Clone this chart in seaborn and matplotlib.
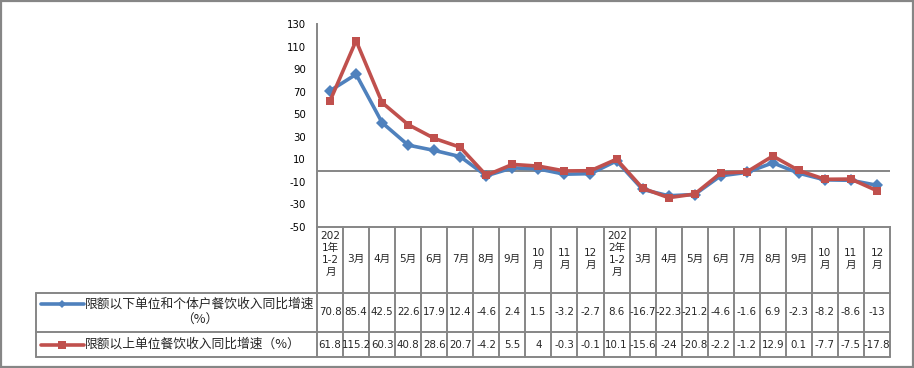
import numpy as np
import pandas as pd
import matplotlib
matplotlib.use("Agg")
import matplotlib.pyplot as plt
import seaborn as sns
from matplotlib.lines import Line2D
from matplotlib.patches import Rectangle

# ---------------- data ----------------
categories = ["2021年1-2月", "3月", "4月", "5月", "6月", "7月", "8月", "9月", "10月", "11月", "12月",
              "2022年1-2月", "3月", "4月", "5月", "6月", "7月", "8月", "9月", "10月", "11月", "12月"]
header_labels = ["202\n1年\n1-2\n月", "3月", "4月", "5月", "6月", "7月", "8月", "9月", "10\n月", "11\n月", "12\n月",
                 "202\n2年\n1-2\n月", "3月", "4月", "5月", "6月", "7月", "8月", "9月", "10\n月", "11\n月", "12\n月"]
series1_name = "限额以下单位和个体户餐饮收入同比增速（%）"
series2_name = "限额以上单位餐饮收入同比增速（%）"
series1_line1 = "限额以下单位和个体户餐饮收入同比增速"
series1_line2 = "（%）"
series2_label = "限额以上单位餐饮收入同比增速（%）"
series1 = [70.8, 85.4, 42.5, 22.6, 17.9, 12.4, -4.6, 2.4, 1.5, -3.2, -2.7,
           8.6, -16.7, -22.3, -21.2, -4.6, -1.6, 6.9, -2.3, -8.2, -8.6, -13]
series2 = [61.8, 115.2, 60.3, 40.8, 28.6, 20.7, -4.2, 5.5, 4, -0.3, -0.1,
           10.1, -15.6, -24, -20.8, -2.2, -1.2, 12.9, 0.1, -7.7, -7.5, -17.8]
yticks = [-50, -30, -10, 10, 30, 50, 70, 90, 110, 130]

# ---------------- style ----------------
sns.set_style("white")
plt.rcParams['font.family'] = ['Noto Sans CJK SC', 'DejaVu Sans']
plt.rcParams['axes.unicode_minus'] = False
NUMFONT = ['DejaVu Sans', 'Noto Sans CJK SC']

BLUE = "#4F81BD"
RED = "#C0504D"
GRAY = "#868686"

W, H = 914, 368
fig = plt.figure(figsize=(W / 100, H / 100), dpi=100)

def fx(px):
    return px / W

def fy(py):
    return 1 - py / H

X0, X1 = 317, 890
Y0, Y1 = 24, 227
ax = fig.add_axes([fx(X0), fy(Y1), fx(X1) - fx(X0), fy(Y0) - fy(Y1)])

n = len(categories)
df = pd.DataFrame({
    "idx": list(range(n)) * 2,
    "value": series1 + series2,
    "series": [series1_name] * n + [series2_name] * n,
})

sns.lineplot(data=df, x="idx", y="value", hue="series", style="series",
             hue_order=[series1_name, series2_name],
             palette=[BLUE, RED], markers=["D", "s"], dashes=False,
             linewidth=2.6, markersize=5.8, markeredgewidth=0,
             legend=False, ax=ax)

ax.set_xlim(-0.5, n - 0.5)
ax.set_ylim(-50, 130)
ax.set_yticks(yticks)
ax.set_yticklabels([str(t) for t in yticks], family=NUMFONT)
ax.set_xticks([])
ax.set_xlabel("")
ax.set_ylabel("")
ax.axhline(0, color=GRAY, lw=1.4, zorder=1)
for s in ["top", "right"]:
    ax.spines[s].set_visible(False)
ax.spines["left"].set_color(GRAY)
ax.spines["left"].set_linewidth(1.4)
ax.spines["bottom"].set_color(GRAY)
ax.spines["bottom"].set_linewidth(1.4)
ax.tick_params(axis="y", direction="out", length=5, width=1.2, color=GRAY,
               labelsize=7.3, labelcolor="black", pad=3)
ax.patch.set_alpha(0)

# ---------------- data table ----------------
cw = (X1 - X0) / n
TL = 36
R_HEAD = 227
R1_TOP = 293
R2_TOP = 332
R_BOT = 357

def hline(y, xa, xb):
    fig.add_artist(Line2D([fx(xa), fx(xb)], [fy(y), fy(y)], color=GRAY, lw=1.4))

def vline(x, ya, yb):
    fig.add_artist(Line2D([fx(x), fx(x)], [fy(ya), fy(yb)], color=GRAY, lw=1.4))

for i in range(n + 1):
    vline(X0 + i * cw, R_HEAD, R_BOT)
vline(TL, R1_TOP, R_BOT)
hline(R1_TOP, TL, X1)
hline(R2_TOP, TL, X1)
hline(R_BOT, TL, X1)

for i, lab in enumerate(header_labels):
    cx = X0 + (i + 0.5) * cw
    if lab.count("\n") >= 3:
        fig.text(fx(cx + 0.5), fy(231), lab, ha="center", va="top",
                 fontsize=7.6, linespacing=1.25, family=NUMFONT, multialignment="center")
    else:
        fig.text(fx(cx), fy(259), lab, ha="center", va="center",
                 fontsize=7.6, linespacing=1.25, family=NUMFONT, multialignment="center")

def fmt(v):
    return "{:g}".format(v)

for i in range(n):
    cx = X0 + (i + 0.5) * cw
    fig.text(fx(cx), fy(312), fmt(series1[i]), ha="center", va="center",
             fontsize=7.4, family=NUMFONT)
    fig.text(fx(cx), fy(344.5), fmt(series2[i]), ha="center", va="center",
             fontsize=7.4, family=NUMFONT)

# legend keys in table
for y, col, mk, ms in [(304, BLUE, "D", 4.5), (344.5, RED, "s", 5.5)]:
    fig.add_artist(Line2D([fx(41), fx(84)], [fy(y), fy(y)], color=col, lw=2.6))
    fig.add_artist(Line2D([fx(62)], [fy(y)], color=col, marker=mk, markersize=ms,
                          markeredgewidth=0, lw=0))
fig.text(fx(85), fy(304), series1_line1, ha="left", va="center", fontsize=9.2)
fig.text(fx(200), fy(320.5), series1_line2, ha="center", va="center", fontsize=9.2)
fig.text(fx(85), fy(344.5), series2_label, ha="left", va="center", fontsize=9.2)

# outer frame
fig.add_artist(Rectangle((fx(1), fy(367)), fx(912), fy(1) - fy(367), fill=False,
                         edgecolor=GRAY, lw=1.6))

fig.savefig("out.png", dpi=100)
